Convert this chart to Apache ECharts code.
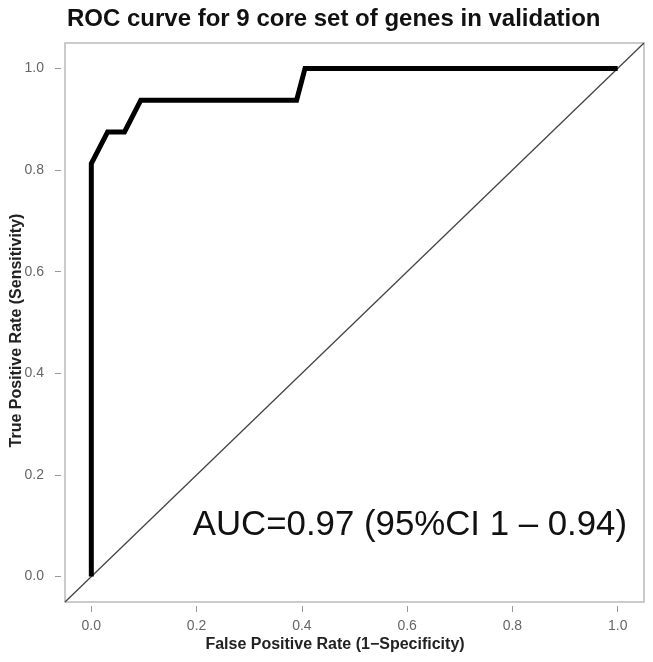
<!DOCTYPE html>
<html>
<head>
<meta charset="utf-8">
<script src="https://cdn.jsdelivr.net/npm/echarts@6/dist/echarts.min.js"></script>
<style>
  html, body { margin: 0; padding: 0; background: #fff; }
  #chart { width: 653px; height: 662px; }
</style>
</head>
<body>
<div id="chart"></div>
<script>
// ROC curve points (false positive rate, true positive rate)
const fpr = [0, 0, 0.031, 0.063, 0.094, 0.39, 0.406, 1]
const tpr = [0, 0.8125, 0.875, 0.875, 0.9375, 0.9375, 1, 1]
// chance diagonal
const diagX = [-0.05, 1.05]
const diagY = [-0.05, 1.05]
const tickValues = [0, 0.2, 0.4, 0.6, 0.8, 1.0]
const aucText = 'AUC=0.97 (95%CI 1 \u2013 0.94)'

const chart = echarts.init(document.getElementById('chart'))
const font = '"Liberation Sans", Arial, Helvetica, sans-serif'

const axisCommon = {
  type: 'value',
  min: -0.05,
  max: 1.05,
  offset: 4,
  splitLine: { show: false },
  axisLine: { show: false, onZero: false },
  axisTick: {
    show: true,
    length: 6,
    customValues: tickValues,
    lineStyle: { color: '#999', width: 1 }
  },
  axisLabel: {
    customValues: tickValues,
    formatter: (v) => v.toFixed(1),
    color: '#666',
    fontSize: 14,
    fontFamily: font
  },
  nameLocation: 'middle',
  nameMoveOverlap: false,
  nameTextStyle: {
    fontFamily: font,
    fontWeight: 'bold',
    fontSize: 16,
    color: '#222'
  }
}

chart.setOption({
  animation: false,
  title: {
    text: 'ROC curve for 9 core set of genes in validation',
    left: 62,
    top: 2,
    textStyle: {
      fontFamily: font,
      fontWeight: 'bold',
      fontSize: 24,
      color: '#111'
    }
  },
  grid: {
    left: 65,
    right: 9,
    top: 43,
    bottom: 60,
    outerBoundsMode: 'none',
    show: true,
    borderColor: '#bbb',
    borderWidth: 1.5,
    backgroundColor: 'transparent'
  },
  xAxis: Object.assign({}, axisCommon, {
    name: 'False Positive Rate (1\u2212Specificity)',
    nameGap: 31,
    axisLabel: Object.assign({}, axisCommon.axisLabel, { margin: 13 }),
    nameTextStyle: Object.assign({}, axisCommon.nameTextStyle, { padding: [0, 39, 0, 0] })
  }),
  yAxis: Object.assign({}, axisCommon, {
    name: 'True Positive Rate (Sensitivity)',
    nameGap: 36,
    axisLabel: Object.assign({}, axisCommon.axisLabel, { margin: 17 }),
    nameTextStyle: Object.assign({}, axisCommon.nameTextStyle, { padding: [0, 16, 0, 0] })
  }),
  graphic: [{
    type: 'text',
    right: 26,
    top: 508,
    style: {
      text: aucText,
      font: '34.8px ' + font,
      fill: '#111'
    }
  }],
  series: [
    {
      name: 'diagonal',
      type: 'line',
      data: diagX.map((x, i) => [x, diagY[i]]),
      showSymbol: false,
      clip: true,
      lineStyle: { color: '#444', width: 1.3 },
      silent: true
    },
    {
      name: 'ROC',
      type: 'line',
      data: fpr.map((x, i) => [x, tpr[i]]),
      showSymbol: false,
      lineStyle: { color: '#000', width: 5, join: 'miter' }
    }
  ]
})
</script>
</body>
</html>
